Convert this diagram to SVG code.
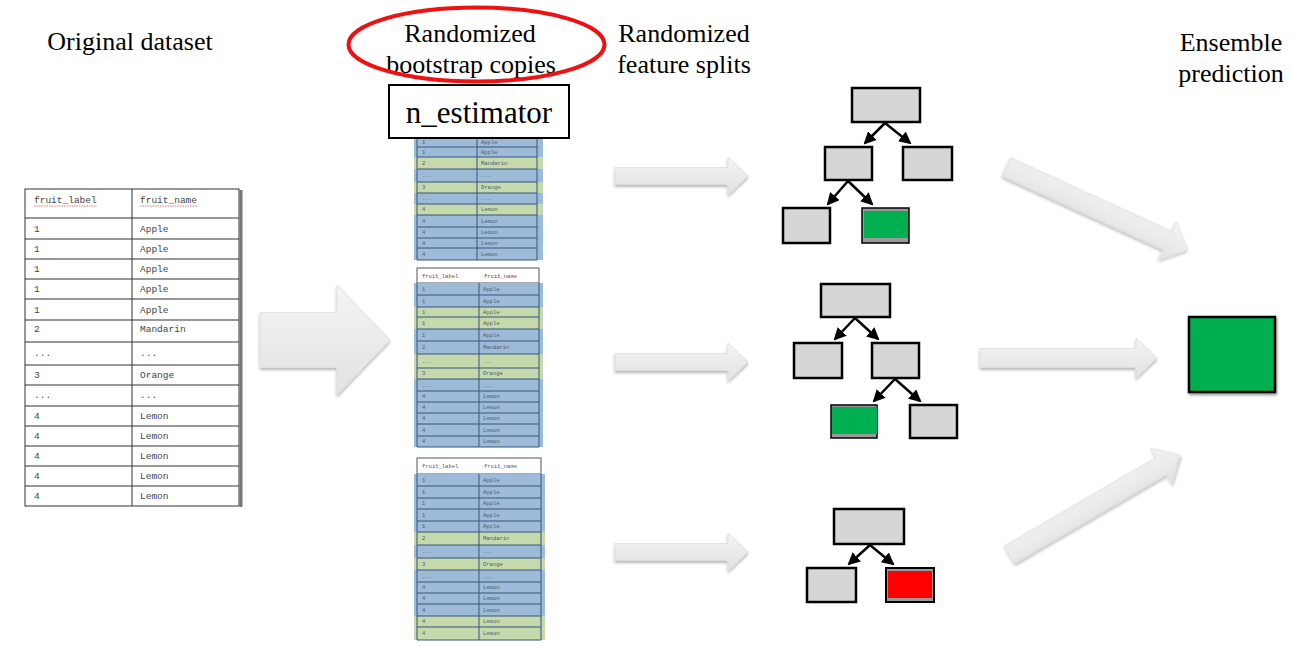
<svg xmlns="http://www.w3.org/2000/svg" width="1292" height="647" viewBox="0 0 1292 647">
<style>
.lbl{font-family:"Liberation Serif","Times New Roman",serif;font-size:26px;fill:#000}
.ot{font-family:"Liberation Mono","Courier New",monospace;font-size:9.5px;fill:#444}
.mt{font-family:"Liberation Mono","Courier New",monospace;font-size:5.5px;fill:#4a5a6a}
.mh{font-family:"Liberation Mono","Courier New",monospace;font-size:5.5px;fill:#8a3030}
.b{fill:#9dbbd9}
.g{fill:#c6d9ad}
.rl{stroke:#34557a;stroke-width:1}
.ol{stroke:#333;stroke-width:1}
.node{fill:#d6d6d6;stroke:#000;stroke-width:2.5}
.edge{stroke:#000;stroke-width:2.5;fill:none;marker-end:url(#ah)}
.arr{fill:url(#ag);stroke:#dcdcdc;stroke-width:0.8;filter:url(#sh)}
</style>
<defs>
<marker id="ah" markerWidth="5" markerHeight="5" refX="4.2" refY="2.5" orient="auto" markerUnits="strokeWidth">
<path d="M0,0 L5,2.5 L0,5 Z" fill="#000"/>
</marker>
<linearGradient id="ag" x1="0" y1="0" x2="0" y2="1">
<stop offset="0" stop-color="#f4f4f4"/>
<stop offset="1" stop-color="#e2e2e2"/>
</linearGradient>
<filter id="sh" x="-10%" y="-30%" width="120%" height="160%">
<feGaussianBlur in="SourceAlpha" stdDeviation="1.5"/>
<feOffset dx="0" dy="2" result="o"/>
<feComponentTransfer><feFuncA type="linear" slope="0.3"/></feComponentTransfer>
<feMerge><feMergeNode/><feMergeNode in="SourceGraphic"/></feMerge>
</filter>
<filter id="bs" x="-10%" y="-10%" width="130%" height="130%">
<feGaussianBlur in="SourceAlpha" stdDeviation="1.5"/>
<feOffset dx="1" dy="2"/>
<feComponentTransfer><feFuncA type="linear" slope="0.4"/></feComponentTransfer>
<feMerge><feMergeNode/><feMergeNode in="SourceGraphic"/></feMerge>
</filter>
</defs>
<rect width="1292" height="647" fill="#fff"/>

<!-- Labels -->
<g id="labels">
<text class="lbl" x="130" y="50" text-anchor="middle">Original dataset</text>
<text class="lbl" x="470" y="42" text-anchor="middle">Randomized</text>
<text class="lbl" x="471" y="73" text-anchor="middle">bootstrap copies</text>
<text class="lbl" x="684" y="42" text-anchor="middle">Randomized</text>
<text class="lbl" x="684" y="73" text-anchor="middle">feature splits</text>
<text class="lbl" x="1231" y="51" text-anchor="middle">Ensemble</text>
<text class="lbl" x="1231" y="82" text-anchor="middle">prediction</text>
</g>
<g id="highlight">
<ellipse cx="476.5" cy="44.5" rx="128" ry="37" fill="none" stroke="#ee1111" stroke-width="4"/>
</g>

<!-- Original dataset table -->
<g id="original-table">
<rect x="25" y="189" width="214" height="317" fill="#fff" stroke="#333" stroke-width="1"/>
<line x1="241" y1="190" x2="241" y2="507" stroke="#777" stroke-width="3"/>
<line x1="132" y1="189" x2="132" y2="506" class="ol"/>
<g class="ol">
<line x1="25" y1="218" x2="239" y2="218"/>
<line x1="25" y1="239" x2="239" y2="239"/>
<line x1="25" y1="259" x2="239" y2="259"/>
<line x1="25" y1="279" x2="239" y2="279"/>
<line x1="25" y1="299" x2="239" y2="299"/>
<line x1="25" y1="320" x2="239" y2="320"/>
<line x1="25" y1="342" x2="239" y2="342"/>
<line x1="25" y1="365" x2="239" y2="365"/>
<line x1="25" y1="385" x2="239" y2="385"/>
<line x1="25" y1="406" x2="239" y2="406"/>
<line x1="25" y1="426" x2="239" y2="426"/>
<line x1="25" y1="446" x2="239" y2="446"/>
<line x1="25" y1="466" x2="239" y2="466"/>
<line x1="25" y1="486" x2="239" y2="486"/>
</g>
<text class="ot" x="34" y="203">fruit_label</text>
<text class="ot" x="140" y="203">fruit_name</text>
<line x1="34" y1="206" x2="97" y2="206" stroke="#e05050" stroke-width="0.8" stroke-dasharray="1.5,1"/>
<line x1="140" y1="206" x2="197" y2="206" stroke="#e05050" stroke-width="0.8" stroke-dasharray="1.5,1"/>
<text class="ot" x="34" y="232">1</text><text class="ot" x="140" y="232">Apple</text>
<text class="ot" x="34" y="252">1</text><text class="ot" x="140" y="252">Apple</text>
<text class="ot" x="34" y="272">1</text><text class="ot" x="140" y="272">Apple</text>
<text class="ot" x="34" y="292">1</text><text class="ot" x="140" y="292">Apple</text>
<text class="ot" x="34" y="313">1</text><text class="ot" x="140" y="313">Apple</text>
<text class="ot" x="34" y="332">2</text><text class="ot" x="140" y="332">Mandarin</text>
<text class="ot" x="34" y="356">...</text><text class="ot" x="140" y="356">...</text>
<text class="ot" x="34" y="378">3</text><text class="ot" x="140" y="378">Orange</text>
<text class="ot" x="34" y="398">...</text><text class="ot" x="140" y="398">...</text>
<text class="ot" x="34" y="419">4</text><text class="ot" x="140" y="419">Lemon</text>
<text class="ot" x="34" y="439">4</text><text class="ot" x="140" y="439">Lemon</text>
<text class="ot" x="34" y="459">4</text><text class="ot" x="140" y="459">Lemon</text>
<text class="ot" x="34" y="479">4</text><text class="ot" x="140" y="479">Lemon</text>
<text class="ot" x="34" y="499">4</text><text class="ot" x="140" y="499">Lemon</text>
</g>

<!-- Bootstrap copy 1 (top) -->
<g id="bootstrap-1">
<rect x="414" y="136" width="129" height="11" class="b"/>
<rect x="414" y="147" width="129" height="10" class="b"/>
<rect x="414" y="157" width="129" height="12" class="g"/>
<rect x="414" y="169" width="129" height="13" class="b"/>
<rect x="414" y="182" width="129" height="11" class="g"/>
<rect x="414" y="193" width="129" height="11" class="b"/>
<rect x="414" y="204" width="129" height="11" class="g"/>
<rect x="414" y="215" width="129" height="12" class="b"/>
<rect x="414" y="227" width="129" height="11" class="b"/>
<rect x="414" y="238" width="129" height="10" class="b"/>
<rect x="414" y="248" width="129" height="12" class="b"/>
<g class="rl">
<line x1="417" y1="136" x2="417" y2="260"/><line x1="477" y1="136" x2="477" y2="260"/><line x1="537" y1="136" x2="537" y2="260"/>
<line x1="417" y1="147" x2="537" y2="147"/><line x1="417" y1="157" x2="537" y2="157"/><line x1="417" y1="169" x2="537" y2="169"/>
<line x1="417" y1="182" x2="537" y2="182"/><line x1="417" y1="193" x2="537" y2="193"/><line x1="417" y1="204" x2="537" y2="204"/>
<line x1="417" y1="215" x2="537" y2="215"/><line x1="417" y1="227" x2="537" y2="227"/><line x1="417" y1="238" x2="537" y2="238"/>
<line x1="417" y1="248" x2="537" y2="248"/><line x1="417" y1="260" x2="537" y2="260"/>
</g>
<text class="mt" x="422" y="144">1</text><text class="mt" x="481" y="144">Apple</text>
<text class="mt" x="422" y="154">1</text><text class="mt" x="481" y="154">Apple</text>
<text class="mt" x="422" y="165">2</text><text class="mt" x="481" y="165">Mandarin</text>
<text class="mt" x="422" y="177">...</text><text class="mt" x="481" y="177">...</text>
<text class="mt" x="422" y="189">3</text><text class="mt" x="481" y="189">Orange</text>
<text class="mt" x="422" y="200">...</text><text class="mt" x="481" y="200">...</text>
<text class="mt" x="422" y="211">4</text><text class="mt" x="481" y="211">Lemon</text>
<text class="mt" x="422" y="223">4</text><text class="mt" x="481" y="223">Lemon</text>
<text class="mt" x="422" y="234">4</text><text class="mt" x="481" y="234">Lemon</text>
<text class="mt" x="422" y="245">4</text><text class="mt" x="481" y="245">Lemon</text>
<text class="mt" x="422" y="256">4</text><text class="mt" x="481" y="256">Lemon</text>
</g>

<g id="n-estimator">
<rect x="389" y="85" width="180" height="53" fill="#fff" stroke="#000" stroke-width="2"/>
<text x="479" y="123" text-anchor="middle" font-family="'Liberation Serif','Times New Roman',serif" font-size="31" fill="#000">n_estimator</text>
</g>

<!-- Bootstrap copy 2 (middle) -->
<g id="bootstrap-2">
<rect x="417" y="268" width="122" height="15" fill="#fff" stroke="#555" stroke-width="1"/>
<text class="mh" x="422" y="278">fruit_label</text><text class="mh" x="484" y="278">fruit_name</text>
<rect x="414" y="283" width="129" height="12" class="b"/>
<rect x="414" y="295" width="129" height="12" class="b"/>
<rect x="414" y="307" width="129" height="10" class="g"/>
<rect x="414" y="317" width="129" height="12" class="g"/>
<rect x="414" y="329" width="129" height="12" class="b"/>
<rect x="414" y="341" width="129" height="13" class="b"/>
<rect x="414" y="354" width="129" height="14" class="g"/>
<rect x="414" y="368" width="129" height="11" class="g"/>
<rect x="414" y="379" width="129" height="12" class="b"/>
<rect x="414" y="391" width="129" height="11" class="b"/>
<rect x="414" y="402" width="129" height="11" class="b"/>
<rect x="414" y="413" width="129" height="11" class="b"/>
<rect x="414" y="424" width="129" height="12" class="b"/>
<rect x="414" y="436" width="129" height="11" class="b"/>
<g class="rl">
<line x1="417" y1="283" x2="417" y2="447"/><line x1="479" y1="283" x2="479" y2="447"/><line x1="539" y1="283" x2="539" y2="447"/>
<line x1="417" y1="295" x2="539" y2="295"/><line x1="417" y1="307" x2="539" y2="307"/><line x1="417" y1="317" x2="539" y2="317"/>
<line x1="417" y1="329" x2="539" y2="329"/><line x1="417" y1="341" x2="539" y2="341"/><line x1="417" y1="354" x2="539" y2="354"/>
<line x1="417" y1="368" x2="539" y2="368"/><line x1="417" y1="379" x2="539" y2="379"/><line x1="417" y1="391" x2="539" y2="391"/>
<line x1="417" y1="402" x2="539" y2="402"/><line x1="417" y1="413" x2="539" y2="413"/><line x1="417" y1="424" x2="539" y2="424"/>
<line x1="417" y1="436" x2="539" y2="436"/><line x1="417" y1="447" x2="539" y2="447"/>
</g>
<text class="mt" x="422" y="291">1</text><text class="mt" x="483" y="291">Apple</text>
<text class="mt" x="422" y="303">1</text><text class="mt" x="483" y="303">Apple</text>
<text class="mt" x="422" y="314">1</text><text class="mt" x="483" y="314">Apple</text>
<text class="mt" x="422" y="325">1</text><text class="mt" x="483" y="325">Apple</text>
<text class="mt" x="422" y="337">1</text><text class="mt" x="483" y="337">Apple</text>
<text class="mt" x="422" y="349">2</text><text class="mt" x="483" y="349">Mandarin</text>
<text class="mt" x="422" y="363">...</text><text class="mt" x="483" y="363">...</text>
<text class="mt" x="422" y="375">3</text><text class="mt" x="483" y="375">Orange</text>
<text class="mt" x="422" y="387">...</text><text class="mt" x="483" y="387">...</text>
<text class="mt" x="422" y="398">4</text><text class="mt" x="483" y="398">Lemon</text>
<text class="mt" x="422" y="409">4</text><text class="mt" x="483" y="409">Lemon</text>
<text class="mt" x="422" y="420">4</text><text class="mt" x="483" y="420">Lemon</text>
<text class="mt" x="422" y="432">4</text><text class="mt" x="483" y="432">Lemon</text>
<text class="mt" x="422" y="443">4</text><text class="mt" x="483" y="443">Lemon</text>
</g>

<!-- Bootstrap copy 3 (bottom) -->
<g id="bootstrap-3">
<rect x="417" y="458" width="124" height="16" fill="#fff" stroke="#555" stroke-width="1"/>
<text class="mt" x="422" y="468" fill="#666">fruit_label</text><text class="mt" x="484" y="468" fill="#666">fruit_name</text>
<rect x="414" y="474" width="131" height="12" class="b"/>
<rect x="414" y="486" width="131" height="12" class="b"/>
<rect x="414" y="498" width="131" height="11" class="b"/>
<rect x="414" y="509" width="131" height="12" class="b"/>
<rect x="414" y="521" width="131" height="11" class="b"/>
<rect x="414" y="532" width="131" height="13" class="g"/>
<rect x="414" y="545" width="131" height="13" class="b"/>
<rect x="414" y="558" width="131" height="12" class="g"/>
<rect x="414" y="570" width="131" height="12" class="b"/>
<rect x="414" y="582" width="131" height="11" class="b"/>
<rect x="414" y="593" width="131" height="11" class="b"/>
<rect x="414" y="604" width="131" height="12" class="b"/>
<rect x="414" y="616" width="131" height="11" class="g"/>
<rect x="414" y="627" width="131" height="13" class="g"/>
<g class="rl">
<line x1="417" y1="474" x2="417" y2="640"/><line x1="479" y1="474" x2="479" y2="640"/><line x1="541" y1="474" x2="541" y2="640"/>
<line x1="417" y1="486" x2="541" y2="486"/><line x1="417" y1="498" x2="541" y2="498"/><line x1="417" y1="509" x2="541" y2="509"/>
<line x1="417" y1="521" x2="541" y2="521"/><line x1="417" y1="532" x2="541" y2="532"/><line x1="417" y1="545" x2="541" y2="545"/>
<line x1="417" y1="558" x2="541" y2="558"/><line x1="417" y1="570" x2="541" y2="570"/><line x1="417" y1="582" x2="541" y2="582"/>
<line x1="417" y1="593" x2="541" y2="593"/><line x1="417" y1="604" x2="541" y2="604"/><line x1="417" y1="616" x2="541" y2="616"/>
<line x1="417" y1="627" x2="541" y2="627"/><line x1="417" y1="640" x2="541" y2="640"/>
</g>
<text class="mt" x="422" y="482">1</text><text class="mt" x="483" y="482">Apple</text>
<text class="mt" x="422" y="494">1</text><text class="mt" x="483" y="494">Apple</text>
<text class="mt" x="422" y="505">1</text><text class="mt" x="483" y="505">Apple</text>
<text class="mt" x="422" y="517">1</text><text class="mt" x="483" y="517">Apple</text>
<text class="mt" x="422" y="528">1</text><text class="mt" x="483" y="528">Apple</text>
<text class="mt" x="422" y="540">2</text><text class="mt" x="483" y="540">Mandarin</text>
<text class="mt" x="422" y="553">...</text><text class="mt" x="483" y="553">...</text>
<text class="mt" x="422" y="566">3</text><text class="mt" x="483" y="566">Orange</text>
<text class="mt" x="422" y="578">...</text><text class="mt" x="483" y="578">...</text>
<text class="mt" x="422" y="589">4</text><text class="mt" x="483" y="589">Lemon</text>
<text class="mt" x="422" y="600">4</text><text class="mt" x="483" y="600">Lemon</text>
<text class="mt" x="422" y="612">4</text><text class="mt" x="483" y="612">Lemon</text>
<text class="mt" x="422" y="623">4</text><text class="mt" x="483" y="623">Lemon</text>
<text class="mt" x="422" y="635">4</text><text class="mt" x="483" y="635">Lemon</text>
</g>

<!-- Block arrows -->
<g id="block-arrows">
<path class="arr" transform="translate(260,340)" d="M0,-27.5 L77,-27.5 L77,-55 L130,0 L77,55 L77,27.5 L0,27.5 Z"/>
<path class="arr" transform="translate(615,176)" d="M0,-8.5 L113,-8.5 L113,-19 L133,0 L113,19 L113,8.5 L0,8.5 Z"/>
<path class="arr" transform="translate(615,362)" d="M0,-8.5 L113,-8.5 L113,-19 L133,0 L113,19 L113,8.5 L0,8.5 Z"/>
<path class="arr" transform="translate(615,552)" d="M0,-8.5 L113,-8.5 L113,-19 L133,0 L113,19 L113,8.5 L0,8.5 Z"/>
<path class="arr" transform="translate(980,358)" d="M0,-9.5 L156,-9.5 L156,-20 L177,0 L156,20 L156,9.5 L0,9.5 Z"/>
<path class="arr" transform="translate(1007,167) rotate(24.6)" d="M0,-10 L177,-10 L177,-21 L199,0 L177,21 L177,10 L0,10 Z"/>
<path class="arr" transform="translate(1009,555) rotate(-30.3)" d="M0,-10 L176,-10 L176,-21 L198,0 L176,21 L176,10 L0,10 Z"/>
</g>

<!-- Tree 1 -->
<g id="tree1">
<rect class="node" x="852" y="88" width="68" height="34"/>
<rect class="node" x="825" y="147" width="47" height="33"/>
<rect class="node" x="903" y="147" width="49" height="33"/>
<rect class="node" x="783" y="208" width="47" height="35"/>
<rect x="862" y="208" width="47" height="35" fill="#9a9a9a" stroke="#000" stroke-width="1.5"/>
<rect x="864" y="211" width="44" height="27" fill="#00b050"/>
</g>
<!-- Tree 2 -->
<g id="tree2">
<rect class="node" x="821" y="284" width="69" height="33"/>
<rect class="node" x="794" y="343" width="48" height="35"/>
<rect class="node" x="872" y="343" width="47" height="35"/>
<rect x="831" y="405" width="46" height="33" fill="#9a9a9a" stroke="#000" stroke-width="1.5"/>
<rect x="832" y="407" width="45" height="27" fill="#00b050"/>
<rect class="node" x="910" y="405" width="47" height="33"/>
</g>
<!-- Tree 3 -->
<g id="tree3">
<rect class="node" x="834" y="509" width="70" height="35"/>
<rect class="node" x="807" y="568" width="49" height="34"/>
<rect x="886" y="568" width="48" height="34" fill="#9a9a9a" stroke="#000" stroke-width="2"/>
<rect x="888" y="571" width="44" height="27" fill="#ff0000"/>
</g>
<!-- Ensemble -->
<g id="ensemble">
<rect x="1189" y="317" width="86" height="75" fill="#00b050" stroke="#000" stroke-width="2.5" filter="url(#bs)"/>
</g>

<!-- Tree connectors -->
<g id="connectors">
<line class="edge" x1="885" y1="123" x2="865" y2="143"/>
<line class="edge" x1="885" y1="123" x2="910" y2="143"/>
<line class="edge" x1="848" y1="181" x2="828" y2="204"/>
<line class="edge" x1="848" y1="181" x2="872" y2="204"/>
<line class="edge" x1="855" y1="318" x2="835" y2="339"/>
<line class="edge" x1="855" y1="318" x2="878" y2="339"/>
<line class="edge" x1="895" y1="379" x2="874" y2="401"/>
<line class="edge" x1="895" y1="379" x2="920" y2="401"/>
<line class="edge" x1="870" y1="545" x2="849" y2="564"/>
<line class="edge" x1="870" y1="545" x2="893" y2="564"/>
</g>
</svg>
